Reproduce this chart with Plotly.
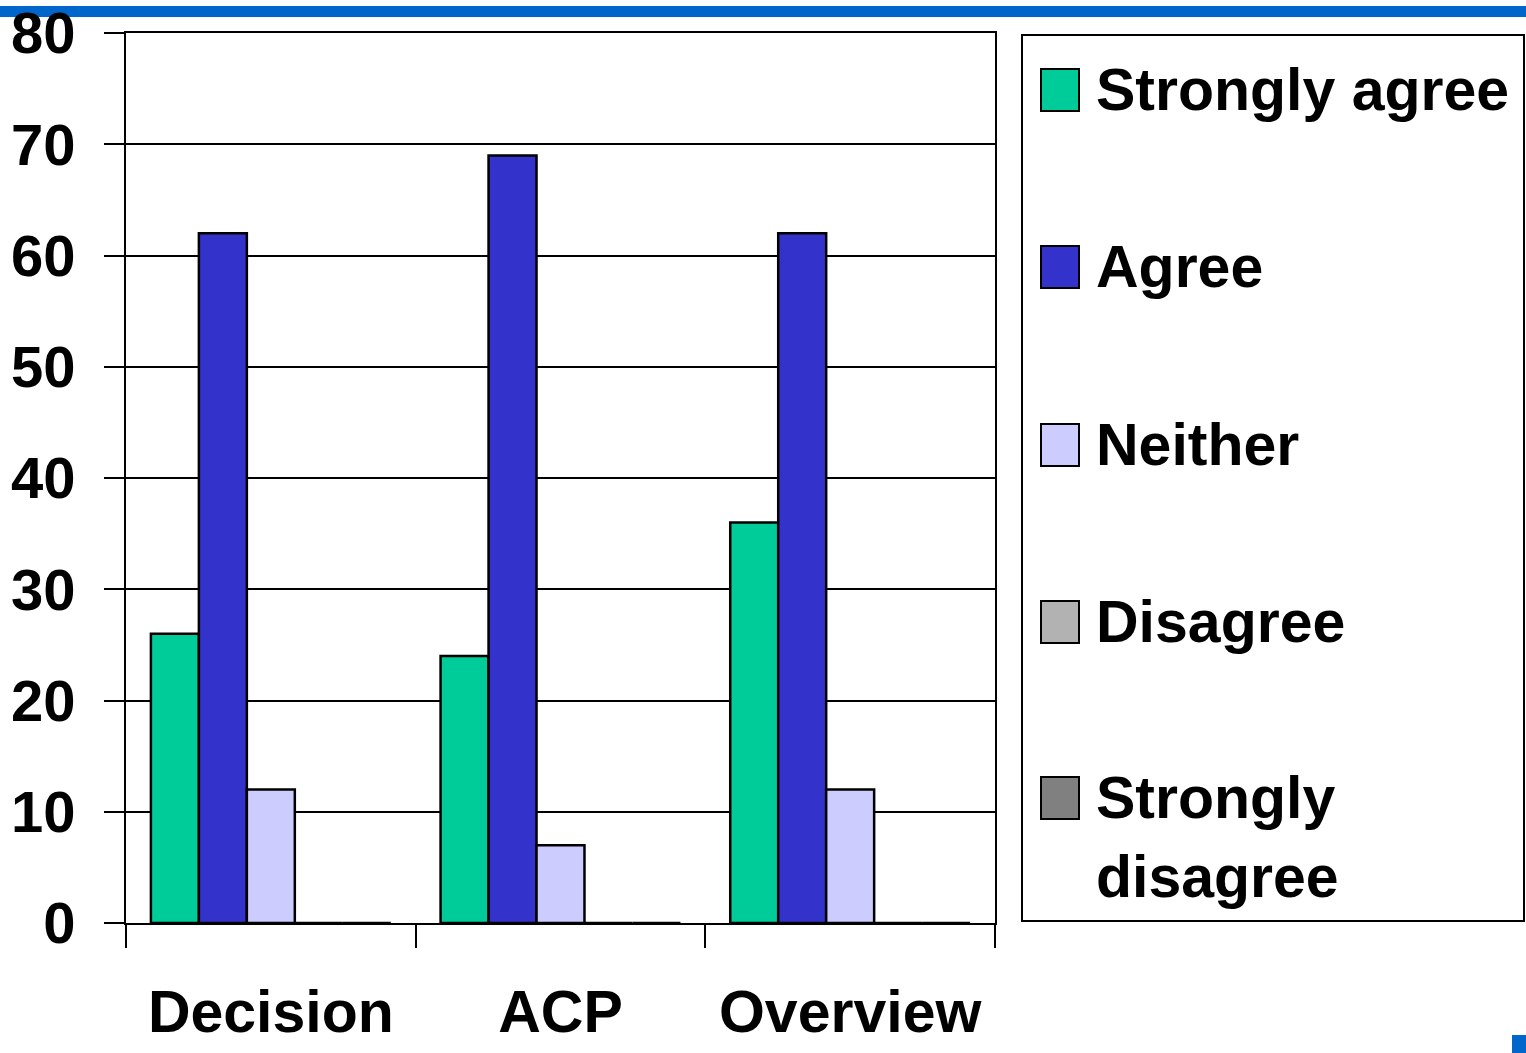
import plotly.graph_objects as go

categories = ["Decision", "ACP", "Overview"]
series_names = ["Strongly agree", "Agree", "Neither", "Disagree", "Strongly<br>disagree"]
strongly_agree = [26, 24, 36]
agree = [62, 69, 62]
neither = [12, 7, 12]
disagree = [0, 0, 0]
strongly_disagree = [0, 0, 0]
series_values = [strongly_agree, agree, neither, disagree, strongly_disagree]
colors = ["#00CC99", "#3333CC", "#CCCCFF", "#B2B2B2", "#808080"]
y_ticks = [0, 10, 20, 30, 40, 50, 60, 70, 80]

W, H = 1526, 1053
L, R, T, B = 126, 995, 33, 923
FONT = "Liberation Sans, Arial, sans-serif"
FS = 58

def px(x):
    return (x - L) / (R - L)

def py(y):
    return (B - y) / (B - T)

fig = go.Figure()
for name, vals, col in zip(series_names, series_values, colors):
    fig.add_trace(go.Bar(
        x=categories, y=vals, name=name,
        marker=dict(color=col, line=dict(color="black", width=2.5)),
        showlegend=False,
    ))

shapes = []
annotations = []
# top blue band
shapes.append(dict(type="rect", xref="paper", yref="paper",
                   x0=px(0), x1=px(W), y0=py(17), y1=py(6),
                   fillcolor="#0066CC", line=dict(width=0), layer="below"))
# bottom-right blue mark
shapes.append(dict(type="rect", xref="paper", yref="paper",
                   x0=px(1512), x1=px(1526), y0=py(1053), y1=py(1035),
                   fillcolor="#0066CC", line=dict(width=0), layer="below"))
# legend box
shapes.append(dict(type="rect", xref="paper", yref="paper",
                   x0=px(1022), x1=px(1524), y0=py(921), y1=py(35),
                   fillcolor="white", line=dict(color="black", width=2)))
centers = [90, 267, 445, 622, 798]
LINE_GAP = 79
for name, col, cy in zip(series_names, colors, centers):
    shapes.append(dict(type="rect", xref="paper", yref="paper",
                       x0=px(1041), x1=px(1079), y0=py(cy + 21), y1=py(cy - 21),
                       fillcolor=col, line=dict(color="black", width=2)))
    for i, line in enumerate(name.split("<br>")):
        annotations.append(dict(
            x=px(1094), y=py(cy - 35 + i * LINE_GAP), xref="paper", yref="paper",
            xanchor="left", yanchor="top", align="left", showarrow=False,
            text="<b>" + line + "</b>",
            font=dict(family=FONT, size=FS + 1, color="black"),
        ))

fig.update_layout(
    width=W, height=H,
    margin=dict(l=L, r=W - R, t=T, b=H - B, pad=0),
    paper_bgcolor="white", plot_bgcolor="white",
    barmode="group", bargap=0.172, bargroupgap=0,
    font=dict(family=FONT, size=FS, color="black"),
    shapes=shapes, annotations=annotations,
    xaxis=dict(
        type="category", range=[-0.5, 2.5], automargin=False, tickangle=0,
        showline=True, linecolor="black", linewidth=2, mirror=True,
        ticks="outside", tickson="boundaries", ticklen=23, tickwidth=2, tickcolor="black",
        showgrid=False, tickfont=dict(family=FONT, size=FS + 1, color="black"),
        ticklabelstandoff=36,
        tickvals=categories, ticktext=["<b>" + c + "</b>" for c in categories],
    ),
    yaxis=dict(
        range=[0, 80], tickvals=y_ticks, ticktext=["<b>%d</b>" % v for v in y_ticks],
        automargin=False,
        showline=True, linecolor="black", linewidth=2, mirror=True,
        ticks="outside", ticklen=20, tickwidth=2, tickcolor="black",
        showgrid=True, gridcolor="black", gridwidth=2, zeroline=False,
        tickfont=dict(family=FONT, size=FS, color="black"),
        ticklabelstandoff=17,
    ),
)

fig.write_html("out.html", config={"displayModeBar": False},
               post_script="document.body.style.margin='0';document.body.style.overflow='hidden';")
